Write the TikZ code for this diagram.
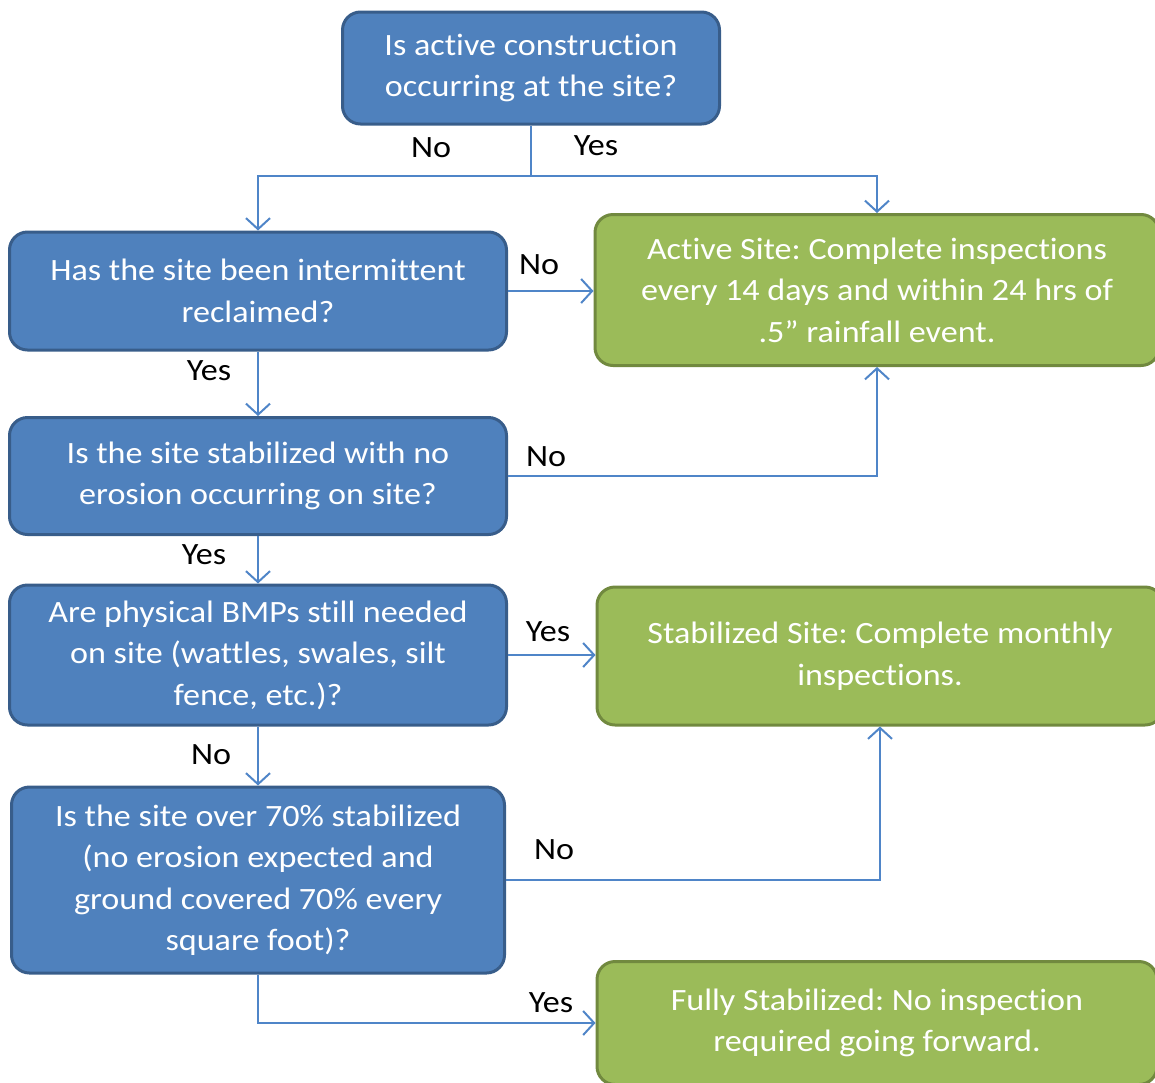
\documentclass[tikz,border=0pt]{standalone}
\usepackage{fontspec}
\setmainfont[FakeStretch=1.1,Ligatures=NoCommon]{Carlito}
\usetikzlibrary{arrows.meta}
\frenchspacing
\definecolor{bfill}{HTML}{4F81BD}
\definecolor{bline}{HTML}{385D8A}
\definecolor{gfill}{HTML}{9BBB59}
\definecolor{gline}{HTML}{71893F}
\definecolor{conn}{HTML}{4F85C8}
\tikzset{
  qbox/.style={draw=bline, fill=bfill, line width=3pt, rounded corners=18pt,
    text=white, align=center, inner sep=0pt, font=\fontsize{31}{41.5}\selectfont},
  abox/.style={draw=gline, fill=gfill, line width=3pt, rounded corners=18pt,
    text=white, align=center, inner sep=0pt, font=\fontsize{31}{41.5}\selectfont},
  conn/.style={draw=conn, line width=2pt, -{Straight Barb[length=11pt,width=24pt,line width=2pt]}},
  lbl/.style={text=black, inner sep=0pt, font=\fontsize{31}{36}\selectfont}
}
\begin{document}
\begin{tikzpicture}[x=1pt,y=-1pt]
\useasboundingbox (0,0) rectangle (1155,1082);
\node[qbox, minimum width=377pt, minimum height=112pt] (A) at (531,68)
  {Is active construction\\occurring at the site?};
\node[qbox, minimum width=497pt, minimum height=118pt] (B) at (258,291)
  {Has the site been intermittent\\reclaimed?};
\node[qbox, minimum width=497pt, minimum height=117pt] (C) at (258,476)
  {Is the site stabilized with no\\erosion occurring on site?};
\node[qbox, minimum width=497pt, minimum height=140pt] (D) at (258,655)
  {Are physical BMPs still needed\\on site (wattles, swales, silt\\fence, etc.)?};
\node[qbox, minimum width=493pt, minimum height=186pt] (E) at (258,880)
  {Is the site over 70\% stabilized\\(no erosion expected and\\ground covered 70\% every\\square foot)?};
\node[abox, minimum width=564pt, minimum height=151pt] (G1) at (877,290)
  {Active Site: Complete inspections\\every 14 days and within 24 hrs of\\.5” rainfall event.};
\node[abox, minimum width=566pt, minimum height=138pt] (G2) at (880,656)
  {Stabilized Site: Complete monthly\\inspections.};
\node[abox, minimum width=560pt, minimum height=123pt] (G3) at (877,1023)
  {Fully Stabilized: No inspection\\required going forward.};

\coordinate (j) at (531,176);
\draw[draw=conn, line width=2pt] (A.south) -- (j);
\draw[conn] (j) -| (B.north);
\draw[conn] (j) -| (G1.north);
\draw[conn] (B.east) -- (B.east -| G1.west);
\draw[conn] (B.south) -- (C.north);
\draw[conn] (C.east) -| (G1.south);
\draw[conn] (C.south) -- (D.north);
\draw[conn] (D.east) -- (D.east -| G2.west);
\draw[conn] (D.south) -- (E.north);
\draw[conn] (E.east) -| (G2.south);
\draw[conn] (E.south) |- (G3.west);

\node[lbl] (l1) at (431,148) {No};
\node[lbl] (l2) at (596,146) {Yes};
\node[lbl] (l3) at (539,265) {No};
\node[lbl] (l4) at (209,371) {Yes};
\node[lbl] (l5) at (546,457) {No};
\node[lbl] (l6) at (204,555) {Yes};
\node[lbl] (l7) at (548,632) {Yes};
\node[lbl] (l8) at (211,755) {No};
\node[lbl] (l9) at (554,850) {No};
\node[lbl] (l10) at (551,1003) {Yes};
\end{tikzpicture}
\end{document}
